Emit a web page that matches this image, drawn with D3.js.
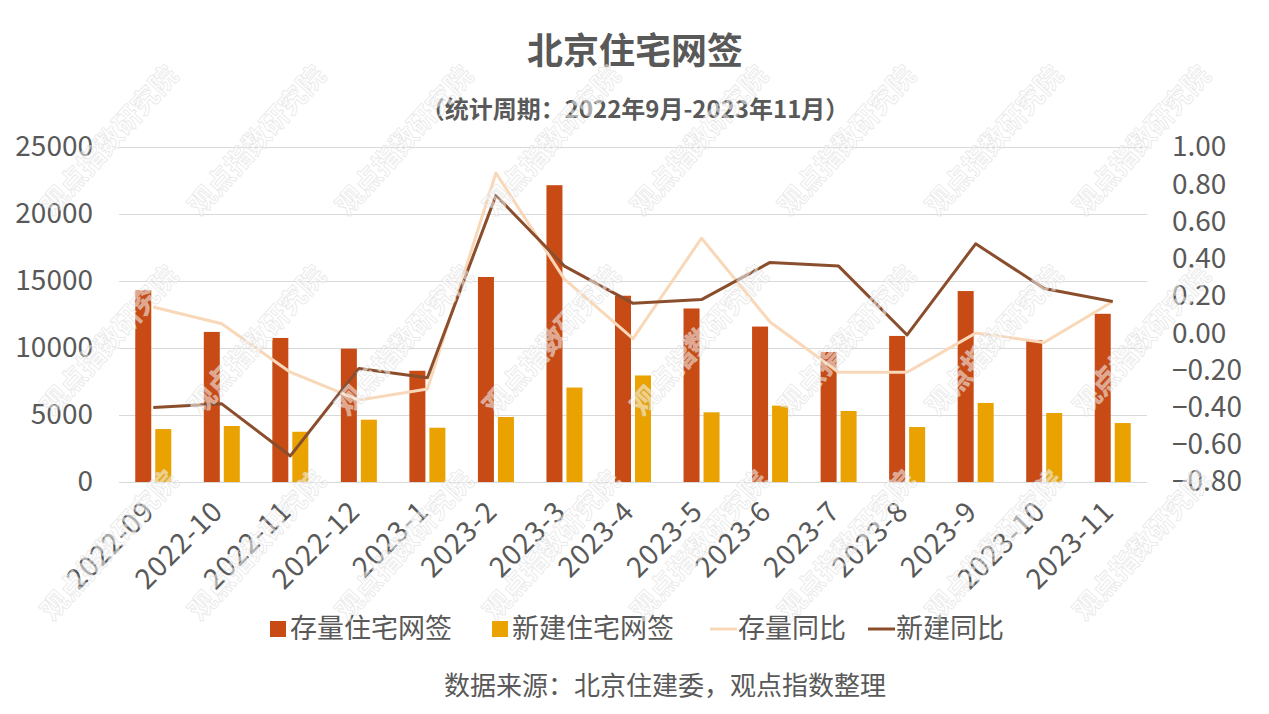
<!DOCTYPE html>
<html>
<head>
<meta charset="utf-8">
<script src="https://cdn.jsdelivr.net/npm/d3@7/dist/d3.min.js"></script>
<style>
  html, body { margin: 0; padding: 0; background: #ffffff; }
  svg { display: block; font-family: "Noto Sans CJK SC", "Noto Sans", sans-serif; }
</style>
</head>
<body>
<svg id="chart" width="1269" height="714"></svg>
<script>
// ---- data ----
const categories = ["2022-09","2022-10","2022-11","2022-12","2023-1","2023-2","2023-3","2023-4","2023-5","2023-6","2023-7","2023-8","2023-9","2023-10","2023-11"];
const existingSales = [14300,11200,10750,9950,8300,15300,22150,13900,12950,11600,9700,10900,14250,10600,12550];
const newSales      = [3950,4180,3750,4650,4050,4850,7050,7950,5200,5700,5300,4100,5900,5150,4400];
const existingYoY   = [0.14,0.05,-0.21,-0.36,-0.30,0.86,0.29,-0.03,0.51,0.06,-0.21,-0.21,0.00,-0.05,0.17];
const newYoY        = [-0.40,-0.38,-0.66,-0.19,-0.24,0.74,0.36,0.16,0.18,0.38,0.36,-0.01,0.48,0.24,0.17];
const leftTicks  = [0,5000,10000,15000,20000,25000];
const rightTicks = [-0.8,-0.6,-0.4,-0.2,0,0.2,0.4,0.6,0.8,1.0];
const seriesNames = ["存量住宅网签","新建住宅网签","存量同比","新建同比"];
const titleText = "北京住宅网签";
const subtitleText = "（统计周期：2022年9月-2023年11月）";
const sourceText = "数据来源：北京住建委，观点指数整理";
const watermarkText = "观点指数研究院";

// ---- styles ----
const colors = { existing: "#C84B16", newb: "#E9A200", existingLine: "#F8D8B8", newLine: "#8B4E2C" };
const textColor = "#595959";

const svg = d3.select("#chart");
const plot = { left: 119, right: 1147, top: 147, bottom: 482 };

const x0 = d3.scaleBand().domain(categories).range([plot.left, plot.right]).padding(0);
const groupW = 36;
const x1 = d3.scaleBand().domain(["existing","newb"])
  .range([(x0.bandwidth()-groupW)/2, (x0.bandwidth()+groupW)/2]).paddingInner(0.2);
const yL = d3.scaleLinear().domain([0,25000]).range([plot.bottom, plot.top]);
const yR = d3.scaleLinear().domain([-0.8,1.0]).range([plot.bottom, plot.top]);

// title
svg.append("text").attr("x", 635).attr("y", 64).attr("text-anchor","middle")
  .attr("font-size", 36).attr("font-weight","bold").attr("fill", textColor).text(titleText);
svg.append("text").attr("x", 635).attr("y", 118).attr("text-anchor","middle")
  .attr("font-size", 24).attr("font-weight","bold").attr("fill", textColor).text(subtitleText);

// gridlines
svg.append("g").selectAll("line").data(leftTicks).join("line")
  .attr("x1", plot.left).attr("x2", plot.right)
  .attr("y1", d => yL(d)+0.5).attr("y2", d => yL(d)+0.5)
  .attr("stroke", "#d9d9d9").attr("stroke-width", 1);

// left axis
const axL = svg.append("g").attr("transform", `translate(${plot.left-26},0)`)
  .call(d3.axisLeft(yL).tickValues(leftTicks).tickSize(0).tickPadding(0).tickFormat(d3.format("d")));
axL.select(".domain").remove();
axL.selectAll("text").attr("font-size", 28).attr("fill", textColor)
  .attr("font-family", '"Noto Sans CJK SC", sans-serif');

// right axis
const axR = svg.append("g").attr("transform", `translate(${plot.right+25},0)`)
  .call(d3.axisRight(yR).tickValues(rightTicks).tickSize(0).tickPadding(0)
    .tickFormat(d => d3.format(".2f")(d).replace("-", "−")));
axR.select(".domain").remove();
axR.selectAll("text").attr("font-size", 28).attr("fill", textColor)
  .attr("font-family", '"Noto Sans CJK SC", sans-serif');

// bars
const gBars = svg.append("g");
categories.forEach((c, i) => {
  const g = gBars.append("g").attr("transform", `translate(${x0(c)},0)`);
  g.append("rect").attr("x", x1("existing")).attr("width", x1.bandwidth())
    .attr("y", yL(existingSales[i])).attr("height", yL(0) - yL(existingSales[i]))
    .attr("fill", colors.existing);
  g.append("rect").attr("x", x1("newb")).attr("width", x1.bandwidth())
    .attr("y", yL(newSales[i])).attr("height", yL(0) - yL(newSales[i]))
    .attr("fill", colors.newb);
});

// x axis line
svg.append("line").attr("x1", plot.left).attr("x2", plot.right)
  .attr("y1", plot.bottom+0.5).attr("y2", plot.bottom+0.5).attr("stroke", "#d9d9d9");

// lines
const cx = c => x0(c) + x0.bandwidth()/2;
const line = d3.line().x((d,i) => cx(categories[i])).y(d => yR(d));
svg.append("path").datum(existingYoY).attr("d", line).attr("fill","none")
  .attr("stroke", colors.existingLine).attr("stroke-width", 3).attr("stroke-linejoin","round");
svg.append("path").datum(newYoY).attr("d", line).attr("fill","none")
  .attr("stroke", colors.newLine).attr("stroke-width", 3).attr("stroke-linejoin","round");

// x labels
const axX = svg.append("g");
categories.forEach(c => {
  axX.append("text").attr("transform", `translate(${cx(c)-4},${plot.bottom+24}) rotate(-45)`)
    .attr("text-anchor","end").attr("dy","0.35em").attr("letter-spacing", 1)
    .attr("font-size", 28).attr("fill", textColor).text(c);
});

// legend
const legendY = 629;
const legendItems = [
  { name: seriesNames[0], type: "rect", color: colors.existing, x: 270 },
  { name: seriesNames[1], type: "rect", color: colors.newb, x: 492 },
  { name: seriesNames[2], type: "line", color: colors.existingLine, x: 710 },
  { name: seriesNames[3], type: "line", color: colors.newLine, x: 868 }
];
const lg = svg.append("g");
legendItems.forEach(it => {
  if (it.type === "rect") {
    lg.append("rect").attr("x", it.x).attr("y", legendY-8).attr("width", 16).attr("height", 16).attr("fill", it.color);
    lg.append("text").attr("x", it.x+20).attr("y", legendY).attr("dy","0.35em")
      .attr("font-size", 27).attr("fill", textColor).text(it.name);
  } else {
    lg.append("line").attr("x1", it.x).attr("x2", it.x+27).attr("y1", legendY).attr("y2", legendY)
      .attr("stroke", it.color).attr("stroke-width", 3);
    lg.append("text").attr("x", it.x+28).attr("y", legendY).attr("dy","0.35em")
      .attr("font-size", 27).attr("fill", textColor).text(it.name);
  }
});

// source
svg.append("text").attr("x", 665).attr("y", 686).attr("dy","0.35em").attr("text-anchor","middle")
  .attr("font-size", 26).attr("fill", textColor).text(sourceText);

// watermark (only fully-visible copies)
const wm = svg.append("g").attr("pointer-events","none");
const wmRows = [217, 417, 622];
const wmCols = d3.range(0, 8).map(k => 53 + 147.5*k);
wmRows.forEach(ry => {
  wmCols.forEach(cxw => {
    wm.append("text").attr("transform", `translate(${cxw},${ry}) rotate(-48)`)
      .attr("font-size", 27).attr("font-weight","bold")
      .attr("fill", "#ffffff").attr("fill-opacity", 0.5)
      .attr("stroke", "#d4d4d4").attr("stroke-opacity", 0.5).attr("stroke-width", 0.9)
      .text(watermarkText);
  });
});
</script>
</body>
</html>
